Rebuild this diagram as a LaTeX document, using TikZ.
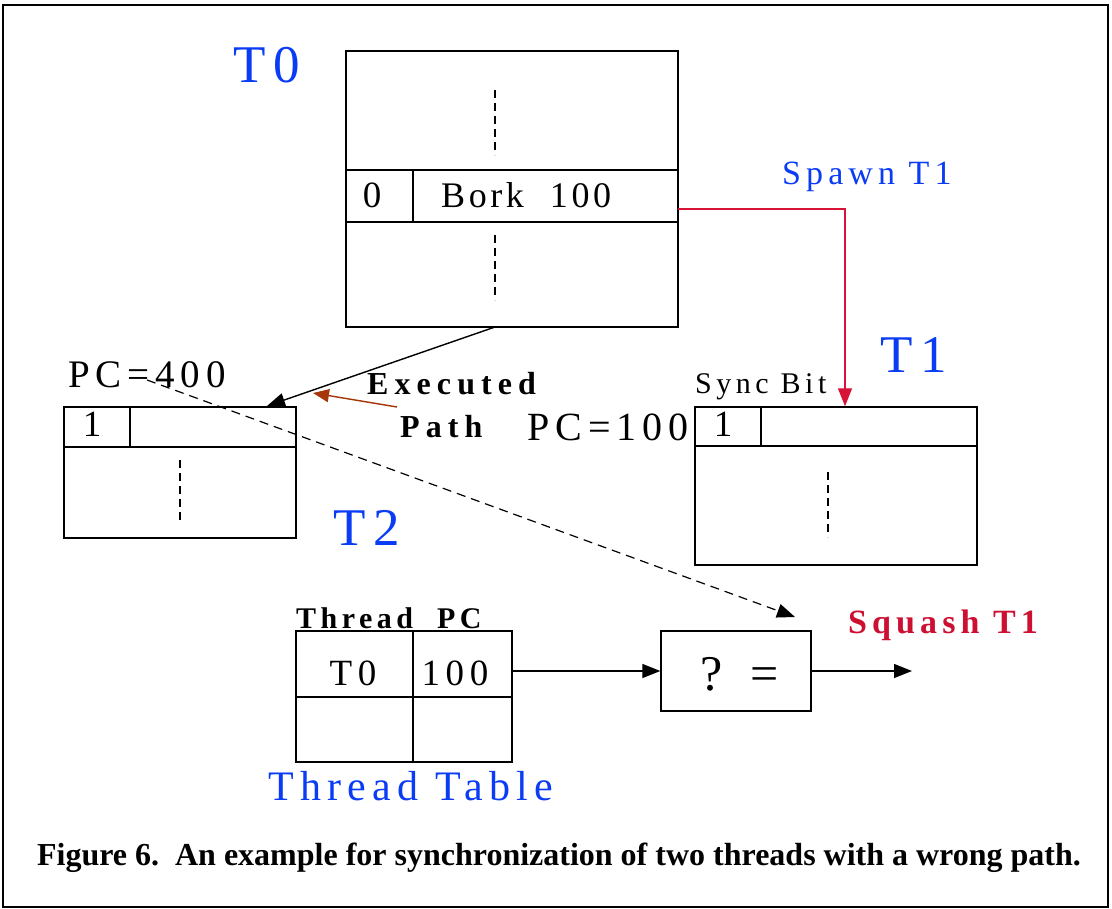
\documentclass[tikz,border=0pt]{standalone}
\usepackage{fontspec}
\setmainfont{Liberation Serif}
\newfontfamily\lsp[LetterSpace=15]{Liberation Serif}
\newfontfamily\lspc[LetterSpace=10]{Liberation Serif}
\newfontfamily\lspb[LetterSpace=19]{Liberation Serif}
\usetikzlibrary{arrows.meta}
\definecolor{tblue}{RGB}{10,60,245}
\definecolor{sred}{RGB}{215,20,55}
\definecolor{qred}{RGB}{205,15,50}
\definecolor{pbrown}{RGB}{165,55,10}
\begin{document}
\begin{tikzpicture}[x=1pt,y=-1pt,
  box/.style={draw,line width=1.4pt,rectangle,inner sep=0pt},
  rule/.style={line width=1.4pt},
  dots/.style={line width=1.4pt,dash pattern=on 8pt off 5pt},
  lbl/.style={inner sep=0pt},
  bigT/.style={lbl,text=tblue,font=\lsp\fontsize{53}{60}\selectfont},
  cell/.style={lbl,font=\lsp\fontsize{37}{42}\selectfont},
  note/.style={lbl,font=\lsp\fontsize{32}{36}\selectfont},
  bnote/.style={lbl,font=\lspb\bfseries\fontsize{32}{36}\selectfont},
  tip/.style={-{Triangle[length=18pt,width=14pt]}},
  conn/.style={line width=1.4pt,tip}
]
\useasboundingbox (0,0) rectangle (1112,909);
% outer frame
\draw[line width=2.4pt] (3,5) rectangle (1108,907);

% ---------- T0 ----------
\node[box,minimum width=332pt,minimum height=276pt] (t0) at (512,189) {};
\draw[rule] (346,170) -- (678,170);
\draw[rule] (346,222) -- (678,222);
\draw[rule] (413,170) -- (413,222);
\draw[dots] (495,90) -- (495,155);
\draw[dots] (495,235) -- (495,300);
\node[cell,anchor=base] (t0bit) at (372,208) {0};
\node[lbl,font=\lspc\fontsize{36}{42}\selectfont,anchor=base west] (bork) at (441,208) {Bork\hspace{26pt}100};
\node[bigT,anchor=base west] (t0lbl) at (233,83) {T0};
\node[lbl,text=tblue,font=\lsp\fontsize{34}{40}\selectfont,anchor=base west] (spawn) at (782,185) {Spawn T1};

% ---------- T1 ----------
\node[box,minimum width=282pt,minimum height=158pt] (t1) at (836,486) {};
\draw[rule] (695,446) -- (977,446);
\draw[rule] (761,407) -- (761,446);
\draw[dots] (828,472) -- (828,537);
\node[cell,anchor=base] (t1bit) at (723,436) {1};
\node[note,anchor=base west,font=\lsp\fontsize{30}{34}\selectfont] (sync) at (695,394) {Sync Bit};
\node[cell,anchor=base east,font=\lsp\fontsize{40}{44}\selectfont] (pc100) at (689,440) {PC=100};
\node[bigT,anchor=base west] (t1lbl) at (880,373) {T1};

% ---------- T2 ----------
\node[box,minimum width=232pt,minimum height=131pt] (t2) at (180,472.5) {};
\draw[rule] (64,447) -- (296,447);
\draw[rule] (130,407) -- (130,447);
\draw[dots] (180,460) -- (180,524);
\node[cell,anchor=base] (t2bit) at (92,437) {1};
\node[cell,anchor=base west,font=\lsp\fontsize{39}{44}\selectfont] (pc400) at (68,388) {PC=400};
\node[bigT,anchor=base west] (t2lbl) at (333,545) {T2};

% executed path
\node[bnote,anchor=base west] (exec) at (367,395) {Executed};
\node[bnote,anchor=base west] (path) at (400,438) {Path};

% ---------- thread table ----------
\node[box,minimum width=216pt,minimum height=131pt] (tt) at (404,696.5) {};
\draw[rule] (296,697) -- (512,697);
\draw[rule] (413,631) -- (413,762);
\node[cell,anchor=base] (ttT0) at (353,685) {T0};
\node[cell,anchor=base] (tt100) at (455,685) {100};
\node[lbl,anchor=base west,font=\lsp\bfseries\fontsize{30}{34}\selectfont] (tthead) at (296,628) {Thread\ \ PC};
\node[lbl,anchor=base west,text=tblue,font=\lsp\fontsize{42}{48}\selectfont] (ttlbl) at (268,800) {Thread Table};

% ---------- comparator ----------
\node[box,minimum width=150pt,minimum height=80pt] (eq) at (736,671) {};
\node[lbl,anchor=base west,font=\lsp\fontsize{50}{56}\selectfont] (eqtxt) at (700,690) {?\ \,=};
\node[lbl,anchor=base west,text=qred,font=\lsp\bfseries\fontsize{34}{40}\selectfont] (squash) at (848,633) {Squash T1};

% ---------- caption ----------
\node[lbl,anchor=base,font=\bfseries\fontsize{32}{38}\selectfont] (cap) at (559,865) {Figure 6.\ \ An example for synchronization of two threads with a wrong path.};

% ---------- connectors ----------
\coordinate (spawnstart) at (678,209);
\coordinate (spawnx) at (845,0);
\draw[line width=1.4pt,sred,tip] (spawnstart) -| (t1.north -| spawnx);

\coordinate (t0out) at (495,327);
\coordinate (t2in) at (267,406);
\draw[conn] (t0out) -- (t2in);

\coordinate (pbstart) at (397,407);
\coordinate (pbend) at (313,393);
\draw[line width=1.4pt,pbrown,-{Triangle[length=16pt,width=13pt]}] (pbstart) -- (pbend);

\coordinate (pcstart) at (147,380);
\coordinate (eqin) at (795,617);
\draw[line width=1.2pt,dash pattern=on 9pt off 6pt,-{Triangle[length=18pt,width=14pt]}] (pcstart) -- (eqin);

\draw[conn] (eq.west -| tt.east) -- (eq.west);
\coordinate (out) at (912,671);
\draw[conn] (eq.east) -- (out);
\end{tikzpicture}
\end{document}
